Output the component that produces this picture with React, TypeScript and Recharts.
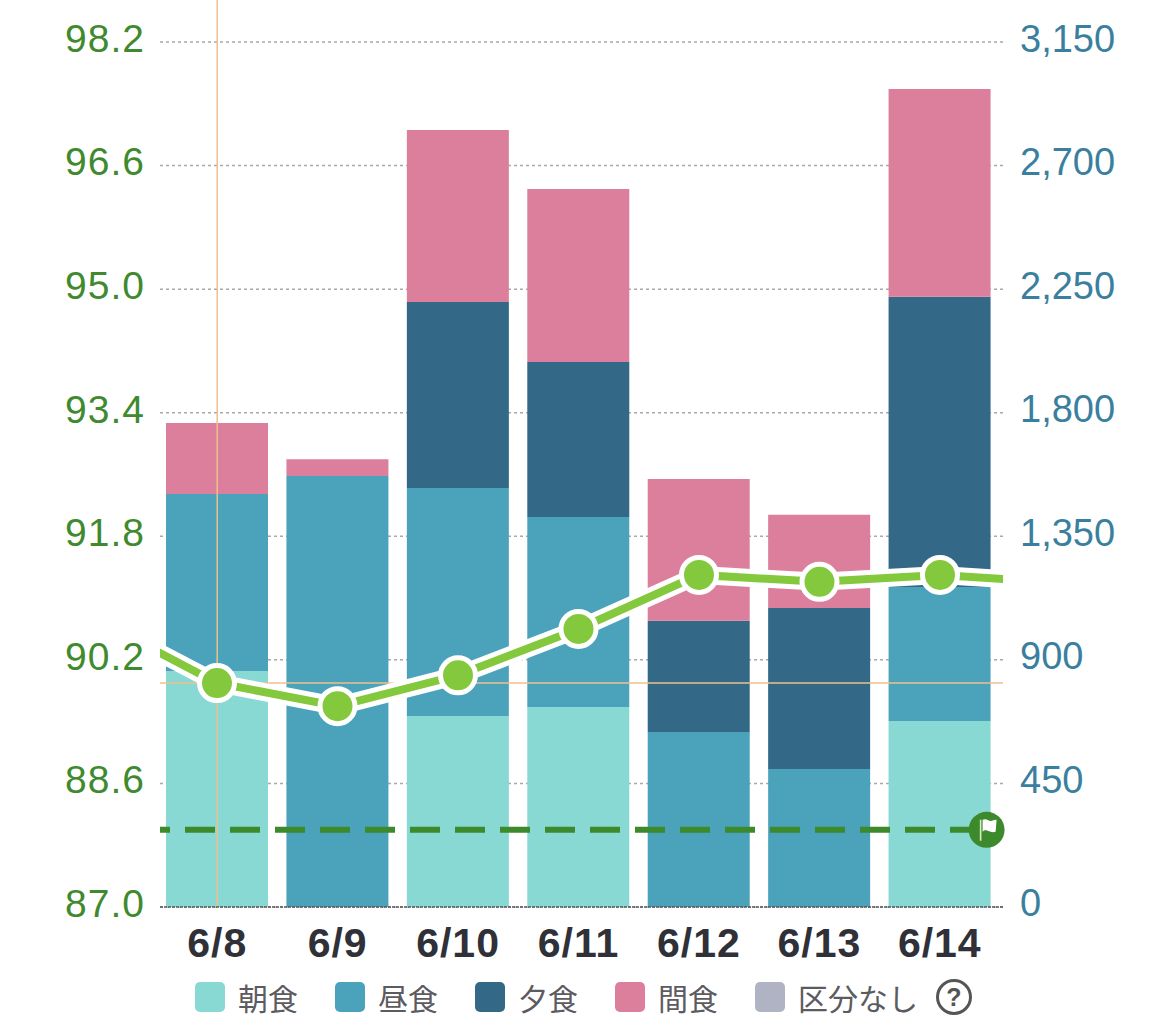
import React from 'react';
import {
  ComposedChart,
  Bar,
  Line,
  XAxis,
  YAxis,
  CartesianGrid,
  Legend,
  ReferenceLine,
  ReferenceDot,
} from 'recharts';

const days = ['6/8', '6/9', '6/10', '6/11', '6/12', '6/13', '6/14'];
const breakfast = [859, 0, 696, 728, 0, 0, 677];
const lunch = [645, 1570, 830, 692, 637, 503, 488];
const dinner = [0, 0, 677, 565, 405, 586, 1057];
const snack = [259, 61, 627, 630, 517, 339, 757];
const other = [0, 0, 0, 0, 0, 0, 0];
const mealNames = ['朝食', '昼食', '夕食', '間食', '区分なし'];

// one extra day on each side, the line runs off the plot edges
const weightPositions = [-1, 0, 1, 2, 3, 4, 5, 6, 7];
const weights = [90.72, 89.9, 89.6, 90.0, 90.6, 91.3, 91.21, 91.3, 91.2];

const weightTicks = [87.0, 88.6, 90.2, 91.8, 93.4, 95.0, 96.6, 98.2];
const kcalTicks = [0, 450, 900, 1350, 1800, 2250, 2700, 3150];
const goalWeight = 88.0;
const selectedDay = '6/8';
const selectedWeight = 89.9;

const barRows = days.map((day, i) => ({
  day,
  breakfast: breakfast[i],
  lunch: lunch[i],
  dinner: dinner[i],
  snack: snack[i],
  other: other[i],
}));

const weightRows = weightPositions.map((pos, i) => ({ pos, weight: weights[i] }));

const FONT = '"Liberation Sans", Arial, sans-serif';
const CJK = '"Noto Sans CJK JP", sans-serif';

const LegendContent = ({ payload }: any) => {
  const items = mealNames.map((name) => (payload || []).find((p: any) => p.value === name)).filter(Boolean);
  return (
    <div style={{ position: 'relative', height: 72 }}>
      {items.map((entry: any, i: number) => (
        <div
          key={entry.value}
          style={{
            position: 'absolute',
            left: 195 + i * 140,
            top: 25,
            display: 'flex',
            alignItems: 'center',
            height: 30,
          }}
        >
          <span
            style={{
              width: 30,
              height: 30,
              borderRadius: 5,
              background: entry.color,
              marginRight: 13,
            }}
          />
          <span style={{ fontFamily: CJK, fontSize: 30, color: '#5b5b60', whiteSpace: 'nowrap' }}>
            {entry.value}
          </span>
        </div>
      ))}
      <svg width={40} height={40} style={{ position: 'absolute', left: 934, top: 20 }}>
        <circle cx={20} cy={20} r={16.5} fill="none" stroke="#555" strokeWidth={3} />
        <text x={20} y={29} textAnchor="middle" fontFamily={FONT} fontSize={25} fontWeight="bold" fill="#555">
          ?
        </text>
      </svg>
    </div>
  );
};

const GoalFlag = ({ cx, cy }: any) => (
  <g>
    <circle cx={cx} cy={cy} r={18} fill="#3d8a2c" />
    <path d={`M${cx - 6} ${cy - 10}V${cy + 11}`} stroke="#d8ecc8" strokeWidth={1.6} />
    <path
      d={`M${cx - 4} ${cy - 10}c4 -2 6 2 9 1s4 -1 5 -1l-1 12c-3 1 -5 0 -8 -1s-4 0 -5 1z`}
      fill="#fff"
    />
  </g>
);

export default function App() {
  return (
    <div style={{ position: 'absolute', left: 0, top: 0, width: 1170, height: 1029, background: '#fff' }}>
      <ComposedChart
        width={1170}
        height={1029}
        data={barRows}
        margin={{ top: 0, right: 0, bottom: 0, left: 0 }}
      >
        <CartesianGrid
          yAxisId="kcal"
          vertical={false}
          horizontalValues={kcalTicks}
          stroke="#a9a9a9"
          strokeWidth={1.5}
          strokeDasharray="3 3"
        />
        <XAxis
          xAxisId="day"
          dataKey="day"
          height={50}
          padding={{ left: -3, right: 3 }}
          tickLine={false}
          axisLine={{ stroke: '#55555a', strokeWidth: 1.5, strokeDasharray: '3 1' }}
          interval={0}
          tickMargin={15}
          tick={{ fontFamily: FONT, fontSize: 41, fontWeight: 'bold', fill: '#2f3038', letterSpacing: 1 }}
        />
        <XAxis
          xAxisId="pos"
          dataKey="pos"
          type="number"
          hide
          domain={[-0.473, 6.523]}
          allowDataOverflow
        />
        <YAxis
          yAxisId="weight"
          width={160}
          domain={[87, 98.744]}
          ticks={weightTicks}
          interval={0}
          tickLine={false}
          axisLine={false}
          tickMargin={9}
          tickFormatter={(v: number) => v.toFixed(1)}
          tick={{ fontFamily: FONT, fontSize: 39, fill: '#3f8a2e', dy: -4, letterSpacing: 1 }}
        />
        <YAxis
          yAxisId="kcal"
          orientation="right"
          width={167}
          domain={[0, 3303]}
          ticks={kcalTicks}
          interval={0}
          tickLine={false}
          axisLine={false}
          tickMargin={11}
          tickFormatter={(v: number) => v.toLocaleString('en-US')}
          tick={{ fontFamily: FONT, fontSize: 38, fill: '#3b7f9f', dy: -4 }}
        />
        <Legend height={72} content={<LegendContent />} />
        <Bar xAxisId="day" yAxisId="kcal" dataKey="breakfast" name="朝食" stackId="meal" fill="#88d8d3" barSize={102} isAnimationActive={false} />
        <Bar xAxisId="day" yAxisId="kcal" dataKey="lunch" name="昼食" stackId="meal" fill="#4aa3bb" barSize={102} isAnimationActive={false} />
        <Bar xAxisId="day" yAxisId="kcal" dataKey="dinner" name="夕食" stackId="meal" fill="#336886" barSize={102} isAnimationActive={false} />
        <Bar xAxisId="day" yAxisId="kcal" dataKey="snack" name="間食" stackId="meal" fill="#db7f9c" barSize={102} isAnimationActive={false} />
        <Bar xAxisId="day" yAxisId="kcal" dataKey="other" name="区分なし" stackId="meal" fill="#b0b3c3" barSize={102} isAnimationActive={false} />
        <ReferenceLine xAxisId="day" yAxisId="kcal" x={selectedDay} stroke="#efc08c" strokeWidth={1.5} />
        <ReferenceLine xAxisId="pos" yAxisId="weight" y={selectedWeight} stroke="#efc08c" strokeWidth={1.5} />
        <ReferenceLine
          xAxisId="pos"
          yAxisId="weight"
          y={goalWeight}
          stroke="#3d8a2c"
          strokeWidth={6}
          strokeDasharray="30 15"
          strokeDashoffset={20}
        />
        <Line
          xAxisId="pos"
          yAxisId="weight"
          data={weightRows}
          dataKey="weight"
          legendType="none"
          stroke="#fff"
          strokeWidth={18}
          dot={false}
          activeDot={false}
          isAnimationActive={false}
        />
        <Line
          xAxisId="pos"
          yAxisId="weight"
          data={weightRows}
          dataKey="weight"
          legendType="none"
          stroke="#84c93d"
          strokeWidth={8}
          dot={{ r: 17.5, fill: '#84c93d', stroke: '#fff', strokeWidth: 5 }}
          activeDot={false}
          isAnimationActive={false}
        />
        <ReferenceDot
          xAxisId="pos"
          yAxisId="weight"
          x={6.387}
          y={goalWeight}
          r={18}
          ifOverflow="visible"
          shape={<GoalFlag />}
        />
      </ComposedChart>
    </div>
  );
}
